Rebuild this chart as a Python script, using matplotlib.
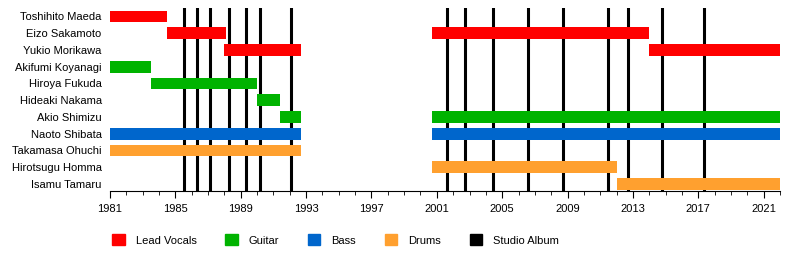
import matplotlib.pyplot as plt
from matplotlib.patches import Patch
from matplotlib.ticker import MultipleLocator, FixedLocator

plt.rcParams['font.family'] = ['Liberation Sans', 'DejaVu Sans']

members = ["Toshihito Maeda", "Eizo Sakamoto", "Yukio Morikawa", "Akifumi Koyanagi",
           "Hiroya Fukuda", "Hideaki Nakama", "Akio Shimizu", "Naoto Shibata",
           "Takamasa Ohuchi", "Hirotsugu Homma", "Isamu Tamaru"]
roles = ["vocals", "vocals", "vocals", "guitar", "guitar", "guitar", "guitar",
         "bass", "drums", "drums", "drums"]
# (start, end) per member
periods = [
    [(1981.0, 1984.5)],
    [(1984.5, 1988.1), (2000.7, 2014.0)],
    [(1988.0, 1992.7), (2014.0, 2022.0)],
    [(1981.0, 1983.5)],
    [(1983.5, 1990.0)],
    [(1990.0, 1991.4)],
    [(1991.4, 1992.7), (2000.7, 2022.0)],
    [(1981.0, 1992.7), (2000.7, 2022.0)],
    [(1981.0, 1992.7)],
    [(2000.7, 2012.0)],
    [(2012.0, 2022.0)],
]
albums = [1985.5, 1986.3, 1987.15, 1988.3, 1989.35, 1990.15, 1992.1,
          2001.6, 2002.7, 2004.45, 2006.6, 2008.75, 2011.45, 2012.7, 2014.75, 2017.35]
year_ticks = list(range(1981, 2022, 4))

role_colors = {"vocals": "#ff0000", "guitar": "#00b300", "bass": "#0066cc", "drums": "#ffa02f"}
role_labels = {"vocals": "Lead Vocals", "guitar": "Guitar", "bass": "Bass", "drums": "Drums"}

fig = plt.figure(figsize=(8, 2.8), dpi=100)
ax = fig.add_axes([0.1375, 0.3196, 0.8375, 0.6518])

for a in albums:
    ax.axvline(a, color="black", linewidth=2.2, zorder=1)

for i, (name, role) in enumerate(zip(members, roles)):
    for start, end in periods[i]:
        ax.barh(i, end - start, left=start, height=0.7, color=role_colors[role], zorder=2)

ax.set_xlim(1981, 2022)
ax.set_ylim(10.39, -0.5)
ax.set_yticks(range(len(members)))
ax.set_yticklabels(members, fontsize=8)
ax.tick_params(axis="y", length=0, pad=6)
ax.xaxis.set_major_locator(FixedLocator(year_ticks))
ax.xaxis.set_minor_locator(MultipleLocator(1))
ax.tick_params(axis="x", which="major", length=5, labelsize=8, pad=5)
ax.tick_params(axis="x", which="minor", length=3)
for s in ["top", "right", "left"]:
    ax.spines[s].set_visible(False)

handles = [Patch(color=role_colors[r], label=role_labels[r]) for r in ["vocals", "guitar", "bass", "drums"]]
handles.append(Patch(color="black", label="Studio Album"))
fig.legend(handles=handles, loc="center left", bbox_to_anchor=(0.128, 0.143), ncol=5,
           frameon=False, fontsize=8, handlelength=1.1, handleheight=1.1,
           handletextpad=1.0, columnspacing=2.6)

fig.savefig("out.png", dpi=100)
